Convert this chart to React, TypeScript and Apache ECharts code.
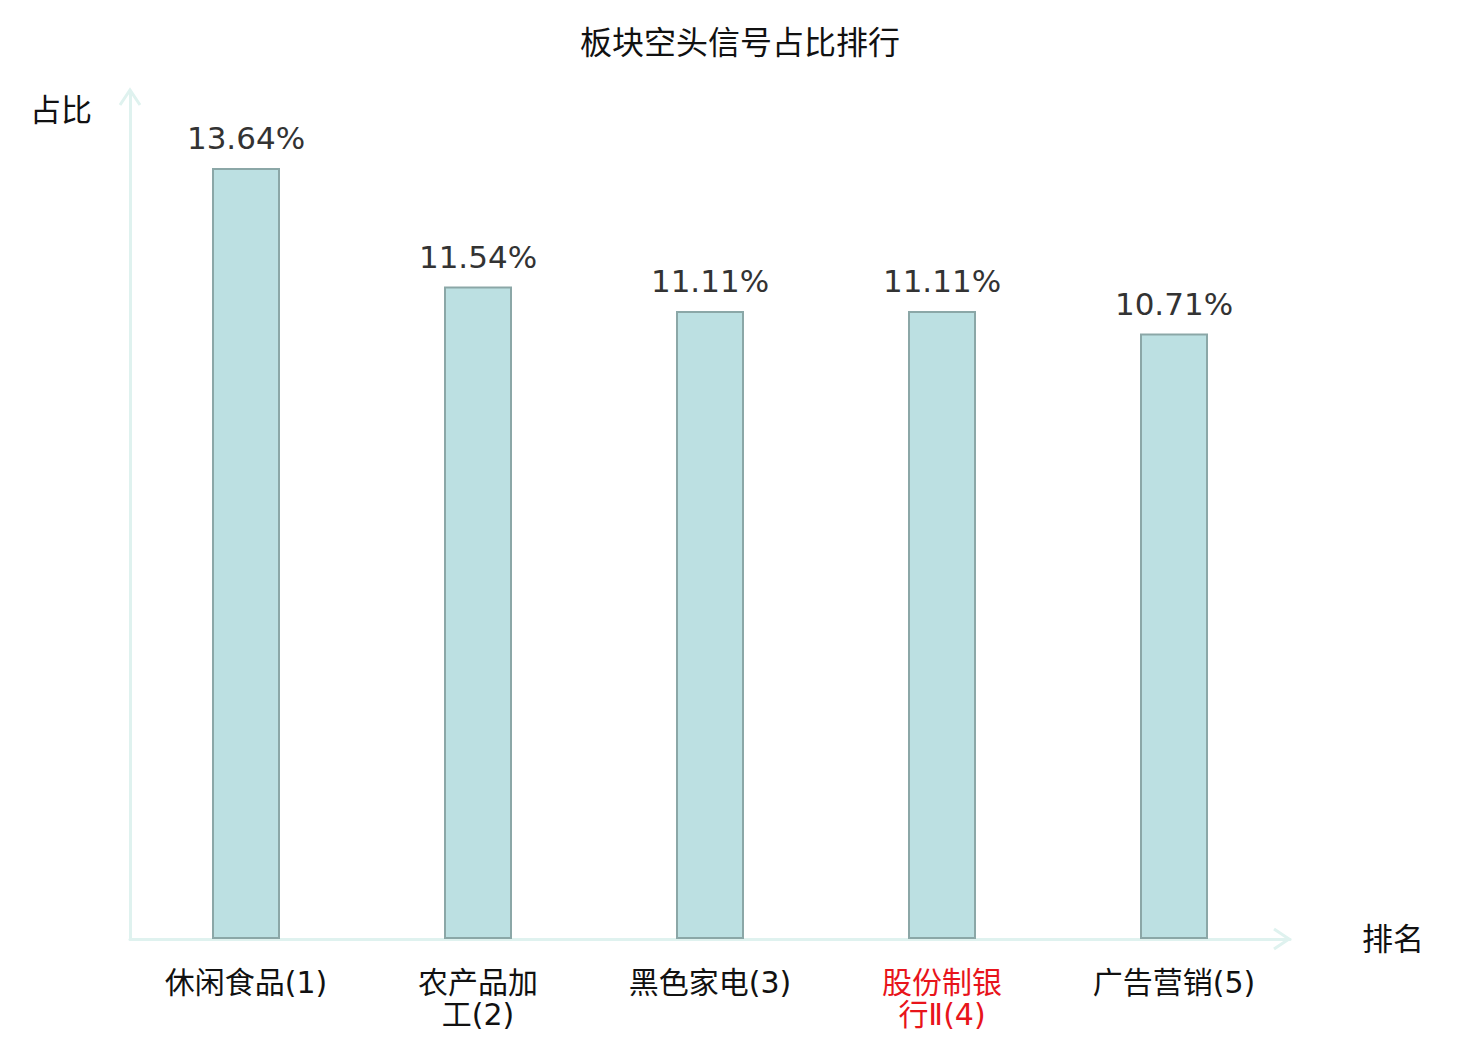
import React, { useEffect, useRef } from "react";
import * as echarts from "echarts";

const titleText = "板块空头信号占比排行";
const categories = ["休闲食品", "农产品加工", "黑色家电", "股份制银行Ⅱ", "广告营销"];
const ranks = [1, 2, 3, 4, 5];
const values = [13.64, 11.54, 11.11, 11.11, 10.71];
const highlightIndex = 3;
const yMax = 15;

const FONT = "'DejaVu Sans', 'Noto Sans CJK SC', sans-serif";

function wrapLabel(name: string, rank: number): string {
  if (name.length > 4) {
    return name.slice(0, 4) + "\n" + name.slice(4) + "(" + rank + ")";
  }
  return name + "(" + rank + ")";
}

export default function App() {
  const ref = useRef<HTMLDivElement>(null);
  useEffect(() => {
    if (!ref.current) return;
    const chart = echarts.init(ref.current, null, { renderer: "svg" });
    const axisColor = "#dff2ef";
    const catData = categories.map((c, i) => ({
      value: wrapLabel(c, ranks[i]),
      textStyle: i === highlightIndex ? { color: "#e8141b" } : { color: "#111" },
    }));
    chart.setOption({
      animation: false,
      textStyle: { fontFamily: FONT },
      title: {
        text: titleText,
        left: "center",
        top: 22,
        textStyle: { fontSize: 32, fontWeight: "normal", color: "#111", fontFamily: FONT },
      },
      grid: { left: 130, right: 190, top: 91, bottom: 101, containLabel: false },
      xAxis: {
        type: "category",
        data: catData,
        name: "排名",
        nameLocation: "end",
        nameGap: 72,
        nameTextStyle: { fontSize: 31, color: "#111", verticalAlign: "middle", fontFamily: FONT },
        axisLine: { show: true, lineStyle: { color: axisColor, width: 3 } },
        axisTick: { show: false },
        axisLabel: {
          fontSize: 30,
          lineHeight: 32,
          margin: 27,
          interval: 0,
          color: "#111",
          fontFamily: FONT,
        },
      },
      yAxis: {
        type: "value",
        min: 0,
        max: yMax,
        name: "占比",
        nameLocation: "end",
        nameGap: -19,
        nameTextStyle: {
          fontSize: 31,
          color: "#111",
          align: "right",
          verticalAlign: "middle",
          padding: [0, 38, 0, 0],
          fontFamily: FONT,
        },
        axisLine: { show: true, lineStyle: { color: axisColor, width: 3 } },
        axisTick: { show: false },
        axisLabel: { show: false },
        splitLine: { show: false },
      },
      series: [
        {
          type: "bar",
          data: values,
          barWidth: 68,
          itemStyle: { color: "#bce0e2", borderColor: "#8ba7a7", borderWidth: 2 },
          label: {
            show: true,
            position: "top",
            distance: 14,
            formatter: (p: any) => p.value.toFixed(2) + "%",
            fontSize: 31,
            color: "#333",
            fontFamily: FONT,
          },
        },
      ],
      graphic: [
        {
          type: "polyline",
          shape: { points: [[120, 105], [130, 90], [140, 105]] },
          style: { stroke: axisColor, lineWidth: 3, fill: null },
        },
        {
          type: "polyline",
          shape: { points: [[1274, 929], [1289, 939], [1274, 949]] },
          style: { stroke: axisColor, lineWidth: 3, fill: null },
        },
      ],
    });
    return () => chart.dispose();
  }, []);
  return (
    <div
      ref={ref}
      style={{ position: "absolute", left: 0, top: 0, width: 1480, height: 1040 }}
    />
  );
}
